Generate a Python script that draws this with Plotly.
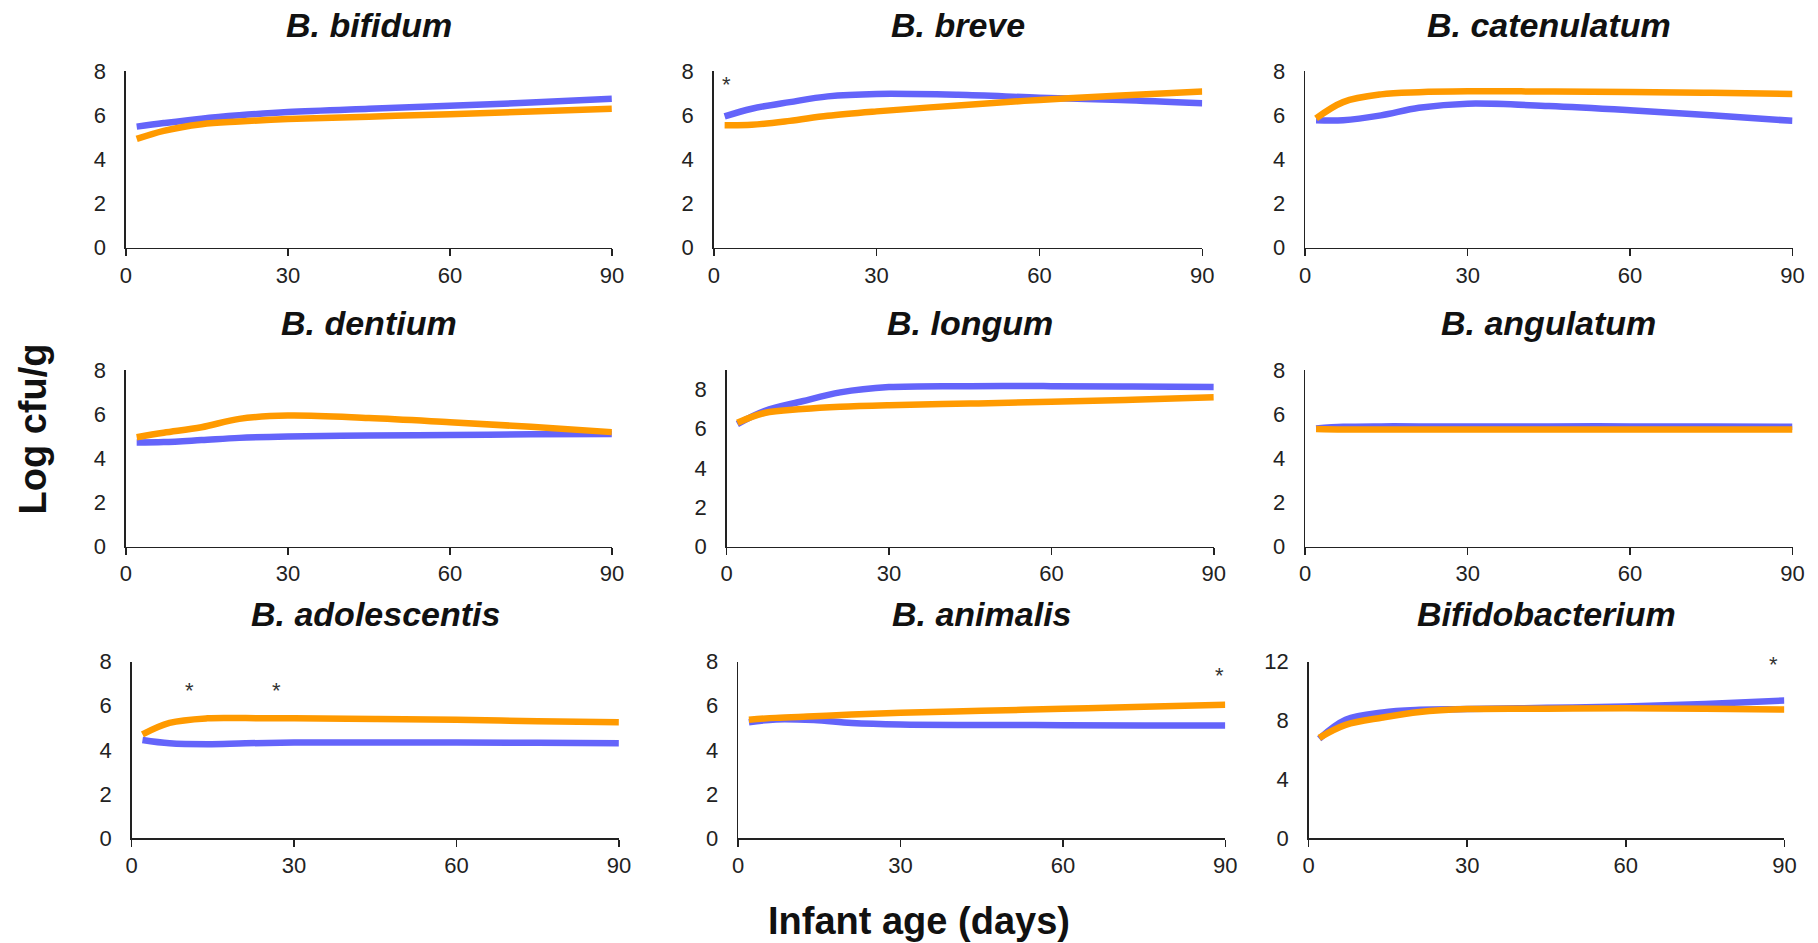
import plotly.graph_objects as go

# ---------------- data ----------------
DAYS = [2, 7, 14, 21, 30, 45, 60, 75, 90]
X_TICKS = [0, 30, 60, 90]

TITLES = ["B. bifidum", "B. breve", "B. catenulatum",
          "B. dentium", "B. longum", "B. angulatum",
          "B. adolescentis", "B. animalis", "Bifidobacterium"]

BIFIDUM_BLUE = [5.49, 5.65, 5.85, 6.00, 6.15, 6.30, 6.43, 6.58, 6.75]
BIFIDUM_ORANGE = [4.93, 5.30, 5.60, 5.72, 5.83, 5.94, 6.05, 6.17, 6.30]

BREVE_BLUE = [5.95, 6.30, 6.60, 6.86, 6.97, 6.93, 6.80, 6.70, 6.55]
BREVE_ORANGE = [5.55, 5.57, 5.75, 5.98, 6.18, 6.45, 6.70, 6.90, 7.08]

CATENULATUM_BLUE = [5.78, 5.78, 6.00, 6.34, 6.53, 6.42, 6.23, 6.00, 5.75]
CATENULATUM_ORANGE = [5.86, 6.60, 6.95, 7.05, 7.09, 7.08, 7.06, 7.02, 6.97]

DENTIUM_BLUE = [4.71, 4.73, 4.82, 4.92, 4.98, 5.03, 5.05, 5.08, 5.10]
DENTIUM_ORANGE = [4.95, 5.15, 5.40, 5.78, 5.93, 5.82, 5.63, 5.42, 5.18]

LONGUM_BLUE = [6.24, 6.90, 7.40, 7.85, 8.12, 8.17, 8.17, 8.15, 8.12]
LONGUM_ORANGE = [6.30, 6.80, 7.00, 7.12, 7.20, 7.28, 7.37, 7.48, 7.60]

ANGULATUM_BLUE = [5.35, 5.42, 5.44, 5.44, 5.44, 5.44, 5.44, 5.43, 5.42]
ANGULATUM_ORANGE = [5.32, 5.30, 5.30, 5.30, 5.30, 5.30, 5.30, 5.30, 5.30]

ADOLESCENTIS_BLUE = [4.45, 4.30, 4.26, 4.30, 4.33, 4.33, 4.33, 4.32, 4.30]
ADOLESCENTIS_ORANGE = [4.70, 5.22, 5.43, 5.44, 5.43, 5.40, 5.36, 5.30, 5.25]

ANIMALIS_BLUE = [5.25, 5.38, 5.35, 5.22, 5.15, 5.13, 5.12, 5.11, 5.10]
ANIMALIS_ORANGE = [5.37, 5.45, 5.52, 5.60, 5.68, 5.77, 5.86, 5.95, 6.05]

GENUS_BLUE = [6.76, 8.05, 8.55, 8.72, 8.77, 8.86, 8.95, 9.12, 9.35]
GENUS_ORANGE = [6.82, 7.70, 8.20, 8.58, 8.77, 8.80, 8.83, 8.80, 8.74]

BLUE_SERIES = [BIFIDUM_BLUE, BREVE_BLUE, CATENULATUM_BLUE, DENTIUM_BLUE, LONGUM_BLUE,
               ANGULATUM_BLUE, ADOLESCENTIS_BLUE, ANIMALIS_BLUE, GENUS_BLUE]
ORANGE_SERIES = [BIFIDUM_ORANGE, BREVE_ORANGE, CATENULATUM_ORANGE, DENTIUM_ORANGE, LONGUM_ORANGE,
                 ANGULATUM_ORANGE, ADOLESCENTIS_ORANGE, ANIMALIS_ORANGE, GENUS_ORANGE]

Y_RANGES = [[0, 8], [0, 8], [0, 8], [0, 8], [0, 9], [0, 8], [0, 8], [0, 8], [0, 12]]
Y_TICKS_DEFAULT = [0, 2, 4, 6, 8]
Y_TICKS_GENUS = [0, 4, 8, 12]

# significance markers: (panel index, day, value)
STAR_PANEL = [1, 2, 6, 6, 7, 8]
STAR_DAY = [2.3, 88.5, 10.7, 26.8, 88.9, 88.0]
STAR_VALUE = [7.39, 8.1, 6.7, 6.7, 7.36, 11.8]

# ---------------- layout (paper fractions) ----------------
X_DOMAINS = [[0.0666, 0.3366], [0.3932, 0.6646], [0.7218, 0.9925],
             [0.0666, 0.3366], [0.4003, 0.6710], [0.7218, 0.9925],
             [0.0698, 0.3405], [0.4067, 0.6774], [0.7237, 0.9880]]
ROW_DOMAINS = [[0.7432, 0.9355], [0.4177, 0.6102], [0.1000, 0.2924]]
TITLE_Y = [0.9862, 0.6609, 0.3443]

BLUE = "#6464FA"
ORANGE = "#FF9A00"
FONT = "Liberation Sans, Arial, sans-serif"

fig = go.Figure()
annotations = []
layout = {}

for i in range(9):
    row = i // 3
    ax = "" if i == 0 else str(i + 1)
    xa, ya = "x" + ax, "y" + ax
    for vals, col in ((BLUE_SERIES[i], BLUE), (ORANGE_SERIES[i], ORANGE)):
        fig.add_trace(go.Scatter(
            x=DAYS, y=vals, mode="lines", xaxis=xa, yaxis=ya,
            line=dict(color=col, width=6.5, shape="spline", smoothing=1.0),
            showlegend=False, hoverinfo="skip"))
    layout["xaxis" + ax] = dict(
        domain=X_DOMAINS[i], anchor=ya, range=[0, 90], tickvals=X_TICKS,
        showgrid=False, zeroline=False, showline=True, linecolor="#222", linewidth=1.5,
        ticks="outside", ticklen=7, tickcolor="#222", tickwidth=1.5,
        tickfont=dict(family=FONT, size=22, color="#222"), fixedrange=True)
    layout["yaxis" + ax] = dict(
        domain=ROW_DOMAINS[row], anchor=xa, range=Y_RANGES[i],
        tickvals=Y_TICKS_GENUS if i == 8 else Y_TICKS_DEFAULT,
        showgrid=False, zeroline=False, showline=True, linecolor="#222", linewidth=1.5,
        ticks="", ticklabelstandoff=14,
        tickfont=dict(family=FONT, size=22, color="#222"), fixedrange=True)
    annotations.append(dict(
        text="<b><i>%s</i></b>" % TITLES[i], xref="paper", yref="paper",
        x=(X_DOMAINS[i][0] + X_DOMAINS[i][1]) / 2, y=TITLE_Y[row],
        xanchor="center", yanchor="middle", showarrow=False,
        font=dict(family=FONT, size=34, color="#111")))

for p, d, v in zip(STAR_PANEL, STAR_DAY, STAR_VALUE):
    ax = "" if p == 0 else str(p + 1)
    annotations.append(dict(
        text="*", x=d, y=v, xref="x" + ax, yref="y" + ax, showarrow=False,
        xanchor="center", yanchor="middle",
        font=dict(family=FONT, size=22, color="#333")))

annotations.append(dict(
    text="<b>Log cfu/g</b>", xref="paper", yref="paper", x=0.0152, y=0.5456,
    xanchor="center", yanchor="middle", textangle=-90, showarrow=False,
    font=dict(family=FONT, size=38, color="#111")))
annotations.append(dict(
    text="<b>Infant age (days)</b>", xref="paper", yref="paper", x=0.5070, y=0.0095,
    xanchor="center", yanchor="middle", showarrow=False,
    font=dict(family=FONT, size=38, color="#111")))

fig.update_layout(
    width=1818, height=943, margin=dict(l=0, r=0, t=0, b=0),
    paper_bgcolor="white", plot_bgcolor="white",
    annotations=annotations, **layout)

fig.write_html("out.html",
               config={"displayModeBar": False, "staticPlot": True},
               post_script="document.body.style.margin='0';"
                           "document.body.style.overflow='hidden';")
